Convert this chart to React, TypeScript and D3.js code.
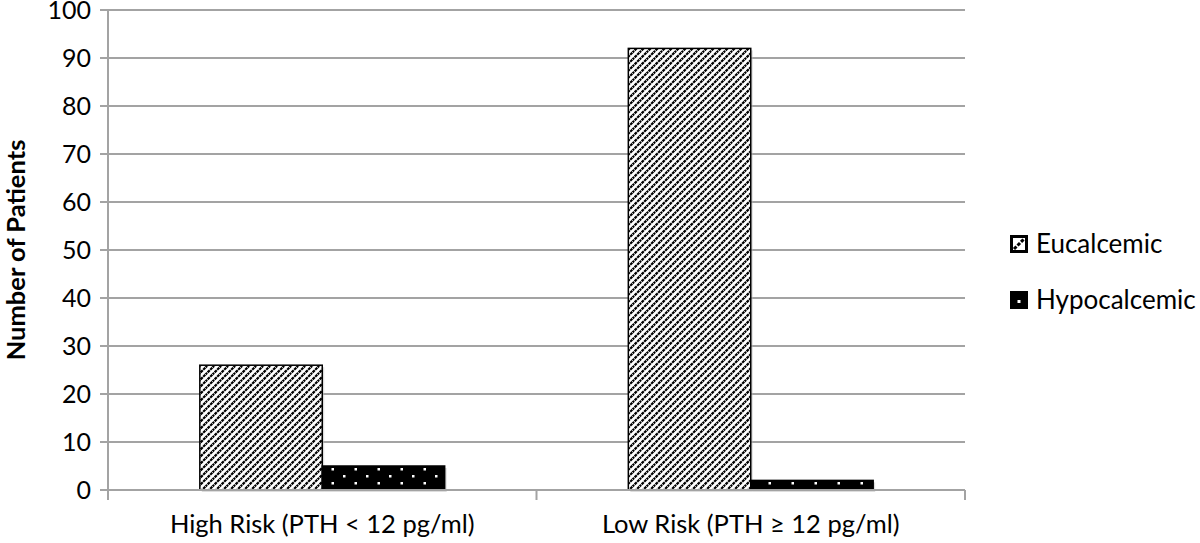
import React, { useEffect } from 'react';
import * as d3 from 'd3';

const categories = ['High Risk (PTH < 12 pg/ml)', 'Low Risk (PTH \u2265 12 pg/ml)'];
const seriesNames = ['Eucalcemic', 'Hypocalcemic'];
const eucalcemic = [26, 92];
const hypocalcemic = [5, 2];
const yTicks = [0, 10, 20, 30, 40, 50, 60, 70, 80, 90, 100];

const W = 1200;
const H = 543;
const margin = { top: 10, right: 235, bottom: 53, left: 108 };
const FONT = 'Lato, "Open Sans", sans-serif';

export default function App() {
  useEffect(() => {
    document.body.style.margin = '0';
    document.body.style.overflow = 'hidden';
  }, []);

  const innerW = W - margin.left - margin.right;
  const innerH = H - margin.top - margin.bottom;

  const x = d3.scaleBand().domain(categories).range([0, innerW]);
  const x1 = d3.scaleBand().domain(seriesNames).range([0, x.bandwidth()]).paddingOuter(0.75);
  const y = d3.scaleLinear().domain([0, 100]).range([innerH, 0]);

  const values = [eucalcemic, hypocalcemic];
  const fills = ['url(#hatch)', 'url(#dots)'];
  const grid = '#a3a3a3';

  return (
    <div style={{ position: 'absolute', left: 0, top: 0 }}>
      <svg width={W} height={H} style={{ display: 'block', background: '#fff' }}>
        <defs>
          <pattern id="hatch" patternUnits="userSpaceOnUse" width="7" height="7">
            <rect width="7" height="7" fill="#fff" />
            <path d="M-1,8 L8,-1 M-1,1 L1,-1 M6,8 L8,6" stroke="#000" strokeWidth="2.2" strokeDasharray="3,0.7" />
          </pattern>
          <pattern id="dots" patternUnits="userSpaceOnUse" width="23" height="14">
            <rect width="23" height="14" fill="#000" />
            <rect x="5" y="3" width="2.5" height="2.5" fill="#fff" />
            <rect x="16.5" y="10" width="2.5" height="2.5" fill="#fff" />
          </pattern>
          <pattern id="hatchLegend" patternUnits="userSpaceOnUse" width="18" height="18">
            <rect width="18" height="18" fill="#fff" />
            <path d="M4,14 L14,4" stroke="#000" strokeWidth="3" strokeDasharray="3.5,1.5" />
          </pattern>
        </defs>
        <g transform={`translate(${margin.left},${margin.top})`}>
          {yTicks.map(t => (
            <g key={t}>
              {t > 0 && <line x1={0} x2={innerW} y1={y(t)} y2={y(t)} stroke={grid} strokeWidth={2} />}
              <line x1={-8} x2={0} y1={y(t)} y2={y(t)} stroke={grid} strokeWidth={2} />
              <text x={-17} y={y(t)} dy="0.36em" textAnchor="end" fontSize={25} fontFamily={FONT} fill="#000">{t}</text>
            </g>
          ))}

          {categories.map((c, i) =>
            seriesNames.map((s, j) => (
              <g key={c + s}>
                <rect
                  x={x(c)! + x1(s)! + 2}
                  y={y(values[j][i]) + 2}
                  width={x1.bandwidth()}
                  height={innerH - y(values[j][i])}
                  fill="#bbb"
                  opacity={0.5}
                />
                <rect
                  x={x(c)! + x1(s)!}
                  y={y(values[j][i])}
                  width={x1.bandwidth()}
                  height={innerH - y(values[j][i])}
                  fill={fills[j]}
                  stroke="#000"
                  strokeWidth={1.5}
                />
              </g>
            ))
          )}

          <line x1={0} x2={0} y1={0} y2={innerH + 8} stroke={grid} strokeWidth={2} />
          <line x1={0} x2={innerW} y1={innerH} y2={innerH} stroke={grid} strokeWidth={2} />
          {[0, 1, 2].map(k => (
            <line key={k} x1={k * x.bandwidth()} x2={k * x.bandwidth()} y1={innerH} y2={innerH + 10} stroke={grid} strokeWidth={2} />
          ))}
          {categories.map(c => (
            <text key={c} x={x(c)! + x.bandwidth() / 2} y={innerH + 43} textAnchor="middle" fontSize={25.5} fontFamily={FONT} fill="#000">{c}</text>
          ))}
        </g>

        <text transform={`translate(25,${margin.top + innerH / 2}) rotate(-90)`} textAnchor="middle" fontSize={25.5} fontWeight="bold" fontFamily={FONT} fill="#000">Number of Patients</text>

        {seriesNames.map((s, j) => (
          <g key={s} transform={`translate(1010,${235 + j * 56})`}>
            {j === 0 ? (
              <rect x={1.5} y={1.5} width={15} height={15} fill="url(#hatchLegend)" stroke="#000" strokeWidth={3} />
            ) : (
              <g>
                <rect x={0} y={0} width={18} height={18} fill="#000" />
                <rect x={7.5} y={9} width={3} height={3} fill="#fff" />
              </g>
            )}
            <text x={26} y={9} dy="0.36em" fontSize={26} fontFamily={FONT} fill="#000">{s}</text>
          </g>
        ))}
      </svg>
    </div>
  );
}
